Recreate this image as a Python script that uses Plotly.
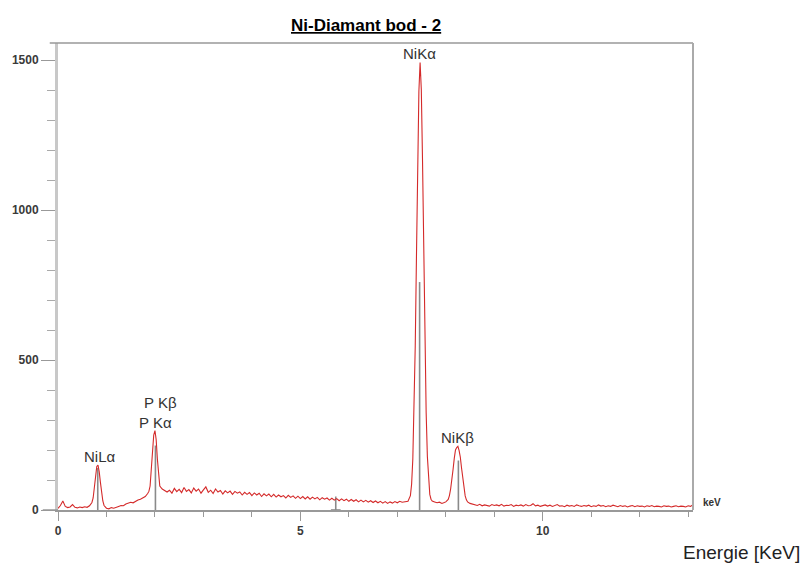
import plotly.graph_objects as go

# ---- spectrum data (energy in keV, counts) ----
low_e = [0.00, 0.05, 0.10, 0.15, 0.20, 0.25, 0.30, 0.35, 0.40, 0.45, 0.50, 0.55, 0.60, 0.65, 0.70,
         0.725, 0.75, 0.775, 0.80, 0.825, 0.85, 0.875, 0.90, 0.925, 0.95,
         1.00, 1.05, 1.10, 1.15, 1.20, 1.25, 1.30, 1.35, 1.40, 1.45, 1.50, 1.55, 1.60, 1.65, 1.70, 1.75, 1.80, 1.85,
         1.875, 1.90, 1.925, 1.95, 1.975, 2.00, 2.025, 2.05, 2.075, 2.10,
         2.15, 2.20, 2.25]
low_c = [5, 15, 30, 12, 8, 10, 18, 9, 7, 10, 8, 11, 9, 14, 25,
         40, 75, 118, 145, 150, 128, 92, 55, 30, 15,
         6, 4, 8, 6, 10, 12, 15, 14, 20, 22, 26, 24, 30, 33, 36, 40, 45, 55,
         62, 80, 130, 205, 250, 265, 235, 170, 110, 80,
         70, 64, 60]

mid_e = [2.30, 2.35, 2.40, 2.45, 2.50, 2.55, 2.60, 2.65, 2.70, 2.75, 2.80, 2.85, 2.90, 2.95,
         3.00, 3.05, 3.10, 3.15, 3.20, 3.25, 3.30, 3.35, 3.40, 3.45, 3.50, 3.55, 3.60, 3.65, 3.70, 3.75,
         3.80, 3.85, 3.90, 3.95, 4.00, 4.05, 4.10, 4.15, 4.20, 4.25, 4.30, 4.35, 4.40, 4.45, 4.50, 4.55,
         4.60, 4.65, 4.70, 4.75, 4.80, 4.85, 4.90, 4.95, 5.00, 5.05, 5.10, 5.15, 5.20, 5.25, 5.30, 5.35,
         5.40, 5.45, 5.50, 5.55, 5.60, 5.65, 5.70, 5.75, 5.80, 5.85, 5.90, 5.95, 6.00, 6.05, 6.10, 6.15,
         6.20, 6.25, 6.30, 6.35, 6.40, 6.45, 6.50, 6.55, 6.60, 6.65, 6.70, 6.75, 6.80, 6.85, 6.90, 6.95,
         7.00, 7.05, 7.10]
mid_c = [66, 56, 72, 61, 69, 58, 75, 62, 68, 57, 73, 63, 70, 56,
         67, 77, 59, 66, 55, 70, 60, 65, 53, 64, 57, 63, 52, 62, 56, 60,
         50, 59, 52, 58, 48, 57, 50, 56, 45, 54, 47, 53, 44, 52, 43, 50,
         44, 48, 40, 49, 42, 47, 39, 46, 38, 45, 37, 44, 36, 43, 37, 42,
         34, 41, 36, 40, 33, 39, 33, 38, 31, 37, 31, 36, 29, 35, 29, 34,
         27, 33, 27, 32, 26, 31, 25, 30, 24, 29, 23, 28, 22, 27, 23, 28,
         24, 29, 26]

nik_e = [7.17, 7.22, 7.27, 7.295, 7.32, 7.345, 7.37, 7.395, 7.42, 7.445, 7.47, 7.495, 7.52, 7.545,
         7.57, 7.595, 7.62, 7.645, 7.67, 7.695, 7.72, 7.77, 7.82, 7.87, 7.92, 7.97,
         8.00, 8.05, 8.075, 8.10, 8.125, 8.15, 8.175, 8.20, 8.225, 8.25, 8.275, 8.30, 8.325, 8.35,
         8.375, 8.40, 8.425, 8.45, 8.50, 8.55]
nik_c = [27, 29, 48, 86, 170, 318, 548, 845, 1155, 1395, 1492, 1402, 1165, 855,
         560, 325, 178, 92, 52, 36, 30, 27, 24, 26, 22, 25,
         27, 35, 48, 70, 98, 135, 172, 200, 208, 212, 198, 176, 140, 102,
         68, 47, 34, 27, 22, 19]

tail_e = [8.60, 8.65, 8.70, 8.75, 8.80, 8.85, 8.90, 8.95, 9.00, 9.05, 9.10, 9.15, 9.20, 9.25, 9.30,
          9.35, 9.40, 9.45, 9.50, 9.55, 9.60, 9.65, 9.70, 9.75, 9.80, 9.85, 9.90, 9.95, 10.00, 10.05,
          10.10, 10.15, 10.20, 10.25, 10.30, 10.35, 10.40, 10.45, 10.50, 10.55, 10.60, 10.65, 10.70,
          10.75, 10.80, 10.85, 10.90, 10.95, 11.00, 11.05, 11.10, 11.15, 11.20, 11.25, 11.30, 11.35,
          11.40, 11.45, 11.50, 11.55, 11.60, 11.65, 11.70, 11.75, 11.80, 11.85, 11.90, 11.95, 12.00,
          12.05, 12.10, 12.15, 12.20, 12.25, 12.30, 12.35, 12.40, 12.45, 12.50, 12.55, 12.60, 12.65,
          12.70, 12.75, 12.80, 12.85, 12.90, 12.95, 13.00, 13.05, 13.10]
tail_c = [18, 15, 19, 14, 17, 16, 13, 18, 15, 17, 14, 19, 13, 16, 15,
          18, 12, 16, 14, 17, 13, 18, 14, 15, 21, 14, 16, 12, 15, 17,
          13, 16, 12, 15, 18, 13, 14, 11, 16, 13, 15, 12, 17,
          14, 12, 15, 13, 16, 11, 14, 12, 17, 13, 15, 11, 14,
          12, 16, 13, 11, 15, 12, 14, 10, 13, 15, 11, 14, 12,
          13, 10, 14, 12, 15, 11, 13, 12, 10, 14, 12, 13, 10,
          12, 14, 11, 13, 12, 10, 14, 12, 18]

energy = low_e + mid_e + nik_e + tail_e
counts = low_c + mid_c + nik_c + tail_c

# ---- element marker lines ----
marker_names = ["NiLa", "PKa", "esc", "NiKa", "NiKb"]
marker_e = [0.82, 2.01, 5.73, 7.46, 8.26]
marker_h = [140, 215, 45, 760, 165]

# ---- peak labels ----
label_text = ["NiKα", "P Kβ", "P Kα", "NiLα", "NiKβ"]
label_e = [7.46, 2.12, 2.02, 0.87, 8.25]
label_c = [1523, 357, 293, 177, 243]

x_ticks = [0, 5, 10]
y_ticks = [0, 500, 1000, 1500]

FONT = "Liberation Sans, Arial, sans-serif"

fig = go.Figure()

mx, my = [], []
for e, h in zip(marker_e, marker_h):
    mx += [e, e, None]
    my += [0, h, None]
# escape marker foot
mx += [marker_e[2] - 0.1, marker_e[2] + 0.1, None]
my += [0, 0, None]
fig.add_trace(go.Scatter(x=mx, y=my, mode="lines",
                         line=dict(color="#8a8a8a", width=1.6),
                         hoverinfo="skip", showlegend=False, cliponaxis=False))

fig.add_trace(go.Scatter(x=energy, y=counts, mode="lines",
                         line=dict(color="#d42a2a", width=1.1),
                         showlegend=False, cliponaxis=False))

tickfont = dict(family=FONT, size=12, color="#3a3a3a", weight="bold")

fig.update_xaxes(range=[0, 13.1], tickvals=x_ticks, ticktext=[str(v) for v in x_ticks],
                 ticks="outside", ticklen=9, tickwidth=1.3, tickcolor="#999",
                 minor=dict(dtick=1, tick0=0, ticks="outside", ticklen=5, tickcolor="#999", tickwidth=1.2),
                 showline=True, linecolor="#999", linewidth=1.5,
                 showgrid=False, zeroline=False, tickfont=tickfont)
fig.update_yaxes(range=[0, 1557], tickvals=y_ticks, ticktext=[str(v) for v in y_ticks],
                 ticks="outside", ticklen=14, tickwidth=1.3, tickcolor="#999",
                 minor=dict(dtick=100, tick0=0, ticks="outside", ticklen=8, tickcolor="#aaa", tickwidth=1.2),
                 showline=True, linecolor="#c8c8c8", linewidth=3,
                 showgrid=False, zeroline=False, tickfont=tickfont)

annotations = []
for t, e, c in zip(label_text, label_e, label_c):
    annotations.append(dict(x=e, y=c, xref="x", yref="y", text=t, showarrow=False,
                            xanchor="center", yanchor="middle",
                            font=dict(family=FONT, size=15, color="#333")))
annotations.append(dict(x=0.485, y=1.0385, xref="paper", yref="paper",
                        text="<b><u>Ni-Diamant bod - 2</u></b>", showarrow=False,
                        xanchor="center", yanchor="middle",
                        font=dict(family=FONT, size=17, color="#000")))
annotations.append(dict(x=1.03, y=0.015, xref="paper", yref="paper", text="keV",
                        showarrow=False, xanchor="center", yanchor="middle",
                        font=dict(family=FONT, size=10, color="#333", weight="bold")))
annotations.append(dict(x=1.077, y=-0.092, xref="paper", yref="paper", text="Energie [KeV]",
                        showarrow=False, xanchor="center", yanchor="middle",
                        font=dict(family=FONT, size=19, color="#222")))

shapes = [
    dict(type="line", xref="paper", yref="paper", x0=-0.013, x1=1.0, y0=1.0, y1=1.0,
         line=dict(color="#999", width=1.5)),
    dict(type="line", xref="paper", yref="paper", x0=1.0, x1=1.0, y0=0.0, y1=1.0,
         line=dict(color="#aaa", width=2)),
    dict(type="line", xref="paper", yref="paper", x0=-0.024, x1=0.0, y0=0.0, y1=0.0,
         line=dict(color="#999", width=1.5)),
]

fig.update_layout(width=811, height=566, margin=dict(l=58, r=118, t=43, b=56),
                  paper_bgcolor="white", plot_bgcolor="white",
                  annotations=annotations, shapes=shapes,
                  font=dict(family=FONT))

fig.write_html("out.html")
